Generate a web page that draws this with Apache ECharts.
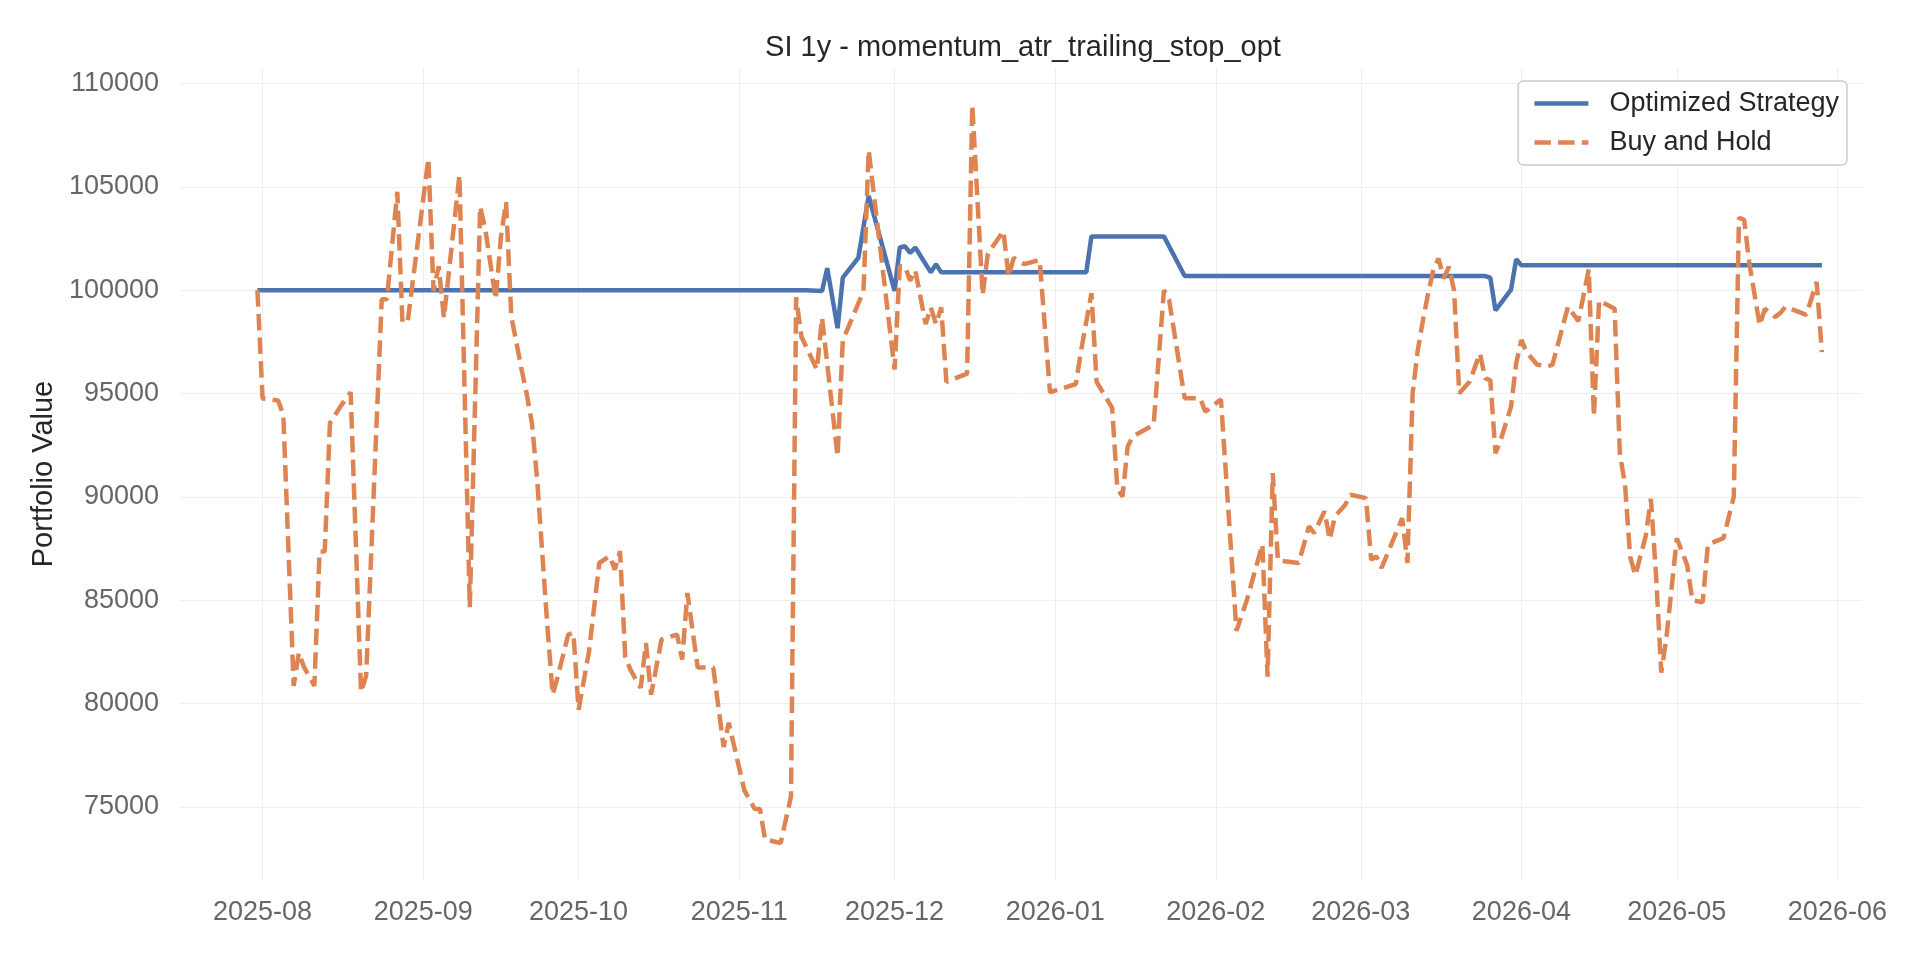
<!DOCTYPE html>
<html>
<head>
<meta charset="utf-8">
<title>SI 1y - momentum_atr_trailing_stop_opt</title>
<script src="https://cdn.jsdelivr.net/npm/echarts@6/dist/echarts.min.js"></script>
<style>
  html, body {margin: 0; padding: 0; background: #fff;}
  #chart {width: 1920px; height: 960px;}
</style>
</head>
<body>
<div id="chart"></div>
<script>
function $(id) {return document.getElementById(id)}

var FONT = '"Liberation Sans", Arial, "DejaVu Sans", sans-serif';

// Optimized Strategy (piecewise)
var stratDates = [
  '2025-07-31', '2025-11-14', '2025-11-17', '2025-11-18', '2025-11-20', '2025-11-21',
  '2025-11-24', '2025-11-26', '2025-12-01', '2025-12-02', '2025-12-03', '2025-12-04',
  '2025-12-05', '2025-12-08', '2025-12-09', '2025-12-10', '2026-01-07', '2026-01-08',
  '2026-01-22', '2026-01-26', '2026-03-25', '2026-03-26', '2026-03-27', '2026-03-30',
  '2026-03-31', '2026-04-01', '2026-05-29'
];
var stratValues = [
  100000, 100000, 99960, 101060, 98160, 100600,
  101560, 104560, 99960, 102060, 102120, 101800,
  102060, 100860, 101260, 100860, 100860, 102600,
  102600, 100680, 100680, 100600, 99020, 100020,
  101500, 101200, 101200
];

// Buy and Hold
var bhDates = [
  '2025-07-31', '2025-08-01', '2025-08-04', '2025-08-05', '2025-08-07', '2025-08-08',
  '2025-08-09', '2025-08-11', '2025-08-12', '2025-08-13', '2025-08-14', '2025-08-16',
  '2025-08-18', '2025-08-20', '2025-08-21', '2025-08-24', '2025-08-25', '2025-08-27',
  '2025-08-28', '2025-08-29', '2025-09-02', '2025-09-03', '2025-09-04', '2025-09-05',
  '2025-09-08', '2025-09-10', '2025-09-12', '2025-09-13', '2025-09-15', '2025-09-16',
  '2025-09-17', '2025-09-18', '2025-09-20', '2025-09-21', '2025-09-22', '2025-09-23',
  '2025-09-25', '2025-09-26', '2025-09-27', '2025-09-29', '2025-09-30', '2025-10-01',
  '2025-10-03', '2025-10-05', '2025-10-07', '2025-10-08', '2025-10-09', '2025-10-10',
  '2025-10-11', '2025-10-13', '2025-10-14', '2025-10-15', '2025-10-17', '2025-10-20',
  '2025-10-21', '2025-10-22', '2025-10-24', '2025-10-27', '2025-10-29', '2025-10-30',
  '2025-11-02', '2025-11-04', '2025-11-05', '2025-11-06', '2025-11-09', '2025-11-11',
  '2025-11-12', '2025-11-13', '2025-11-16', '2025-11-17', '2025-11-20', '2025-11-21',
  '2025-11-25', '2025-11-26', '2025-12-01', '2025-12-02', '2025-12-03', '2025-12-04',
  '2025-12-05', '2025-12-07', '2025-12-08', '2025-12-09', '2025-12-10', '2025-12-11',
  '2025-12-15', '2025-12-16', '2025-12-18', '2025-12-19', '2025-12-22', '2025-12-23',
  '2025-12-24', '2025-12-26', '2025-12-29', '2025-12-31', '2026-01-05', '2026-01-06',
  '2026-01-08', '2026-01-09', '2026-01-12', '2026-01-13', '2026-01-14', '2026-01-15',
  '2026-01-16', '2026-01-20', '2026-01-22', '2026-01-23', '2026-01-26', '2026-01-29',
  '2026-01-30', '2026-02-02', '2026-02-05', '2026-02-07', '2026-02-10', '2026-02-11',
  '2026-02-12', '2026-02-13', '2026-02-17', '2026-02-19', '2026-02-20', '2026-02-22',
  '2026-02-23', '2026-02-24', '2026-02-26', '2026-02-27', '2026-03-02', '2026-03-03',
  '2026-03-04', '2026-03-05', '2026-03-09', '2026-03-10', '2026-03-11', '2026-03-12',
  '2026-03-13', '2026-03-14', '2026-03-15', '2026-03-16', '2026-03-17', '2026-03-18',
  '2026-03-19', '2026-03-20', '2026-03-22', '2026-03-24', '2026-03-25', '2026-03-26',
  '2026-03-27', '2026-03-28', '2026-03-30', '2026-03-31', '2026-04-01', '2026-04-02',
  '2026-04-04', '2026-04-06', '2026-04-07', '2026-04-10', '2026-04-12', '2026-04-14',
  '2026-04-15', '2026-04-16', '2026-04-19', '2026-04-20', '2026-04-21', '2026-04-22',
  '2026-04-23', '2026-04-25', '2026-04-26', '2026-04-27', '2026-04-28', '2026-04-29',
  '2026-05-01', '2026-05-03', '2026-05-04', '2026-05-06', '2026-05-07', '2026-05-10',
  '2026-05-12', '2026-05-13', '2026-05-14', '2026-05-15', '2026-05-17', '2026-05-18',
  '2026-05-20', '2026-05-21', '2026-05-22', '2026-05-26', '2026-05-28', '2026-05-29'
];
var bhValues = [
  100000, 94760, 94660, 93960, 80860, 82460,
  81760, 80860, 87360, 87360, 93560, 94360,
  95060, 80560, 81360, 99560, 99560, 104760,
  98460, 98460, 106360, 99960, 101160, 98660,
  105560, 84660, 104040, 102940, 99560, 102560,
  104260, 98760, 96160, 94960, 93560, 90840,
  83660, 80430, 81320, 83340, 83420, 79700,
  82500, 86800, 87130, 86480, 87370, 82290,
  81640, 80760, 82930, 80430, 83100, 83340,
  82130, 85350, 81740, 81740, 77900, 79070,
  75800, 74900, 74900, 73430, 73250, 75500,
  99660, 97760, 96160, 98660, 91960, 97560,
  99960, 106760, 96160, 101160, 101160, 100460,
  100960, 98360, 99160, 98360, 99160, 95560,
  95960, 108960, 99760, 101760, 102860, 100660,
  101560, 101260, 101460, 95060, 95460, 97060,
  99860, 95560, 94300, 90400, 90020, 92430,
  92920, 93480, 100000, 99520, 94770, 94770,
  94120, 94720, 83520, 85000, 87700, 81300,
  91150, 86930, 86800, 88570, 88250, 89300,
  87930, 89050, 89620, 90100, 89940, 86960,
  87120, 86560, 88970, 86800, 95010, 97100,
  98550, 99840, 100970, 101530, 100560, 101130,
  100000, 95010, 95570, 96940, 95730, 95650,
  92110, 92750, 94360, 96460, 97590, 97000,
  96400, 96300, 96400, 99200, 98500, 101000,
  93900, 99500, 99100, 92100, 90600, 87100,
  86200, 88100, 89900, 86200, 81500, 83200,
  88000, 86700, 85000, 84900, 87700, 88000,
  90000, 103500, 103400, 101300, 98300, 99100,
  98700, 98900, 99200, 98800, 100400, 97000
];

var seriesNames = ['Optimized Strategy', 'Buy and Hold'];

function pairs(dates, values) {
  return dates.map(function (d, i) { return [d, values[i]]; });
}

var chart = echarts.init($('chart'), null, {renderer: 'canvas'});
chart.setOption({
  animation: false,
  backgroundColor: '#ffffff',
  title: {
    text: 'SI 1y - momentum_atr_trailing_stop_opt',
    left: 1018,
    top: 28,
    textAlign: 'center',
    textStyle: {fontFamily: FONT, fontSize: 29, fontWeight: 'normal', color: '#262626'}
  },
  legend: {
    data: seriesNames,
    orient: 'vertical',
    right: 73,
    top: 81,
    itemWidth: 54,
    itemHeight: 26,
    itemGap: 12,
    padding: [9, 8, 9, 14],
    borderColor: '#cccccc',
    borderWidth: 1.5,
    borderRadius: 5,
    backgroundColor: 'rgba(255,255,255,0.8)',
    itemStyle: {opacity: 0},
    lineStyle: {width: 4.5},
    textStyle: {fontFamily: FONT, fontSize: 27, color: '#262626', padding: [0, 0, 0, 16]}
  },
  grid: {left: 181, right: 58, top: 68, bottom: 80},
  xAxis: {
    type: 'time',
    min: '2025-07-16 06:00',
    max: '2026-06-05 18:00',
    splitNumber: 11,
    axisLine: {show: false},
    axisTick: {show: false},
    axisLabel: {
      formatter: '{yyyy}-{MM}',
      fontFamily: FONT, fontSize: 27, color: '#666666', margin: 19,
      showMinLabel: false, showMaxLabel: false
    },
    splitLine: {show: true, showMinLine: false, showMaxLine: false, lineStyle: {color: '#eeeeee', width: 1}}
  },
  yAxis: {
    type: 'value',
    min: 71465,
    max: 110746,
    splitNumber: 8,
    name: 'Portfolio Value',
    nameLocation: 'middle',
    nameGap: 119,
    nameTextStyle: {fontFamily: FONT, fontSize: 29, color: '#262626'},
    axisLine: {show: false},
    axisTick: {show: false},
    axisLabel: {
      formatter: function (v) { return String(v); },
      fontFamily: FONT, fontSize: 27, color: '#666666', margin: 22,
      showMinLabel: false, showMaxLabel: false
    },
    splitLine: {show: true, showMinLine: false, showMaxLine: false, lineStyle: {color: '#eeeeee', width: 1}}
  },
  series: [
    {
      name: seriesNames[0],
      type: 'line',
      symbol: 'none',
      color: '#4c72b0',
      lineStyle: {width: 4.5, color: '#4c72b0'},
      data: pairs(stratDates, stratValues)
    },
    {
      name: seriesNames[1],
      type: 'line',
      symbol: 'none',
      color: '#dd8452',
      lineStyle: {width: 4.5, color: '#dd8452', type: [16.5, 7.2]},
      data: pairs(bhDates, bhValues)
    }
  ]
});
</script>
</body>
</html>
